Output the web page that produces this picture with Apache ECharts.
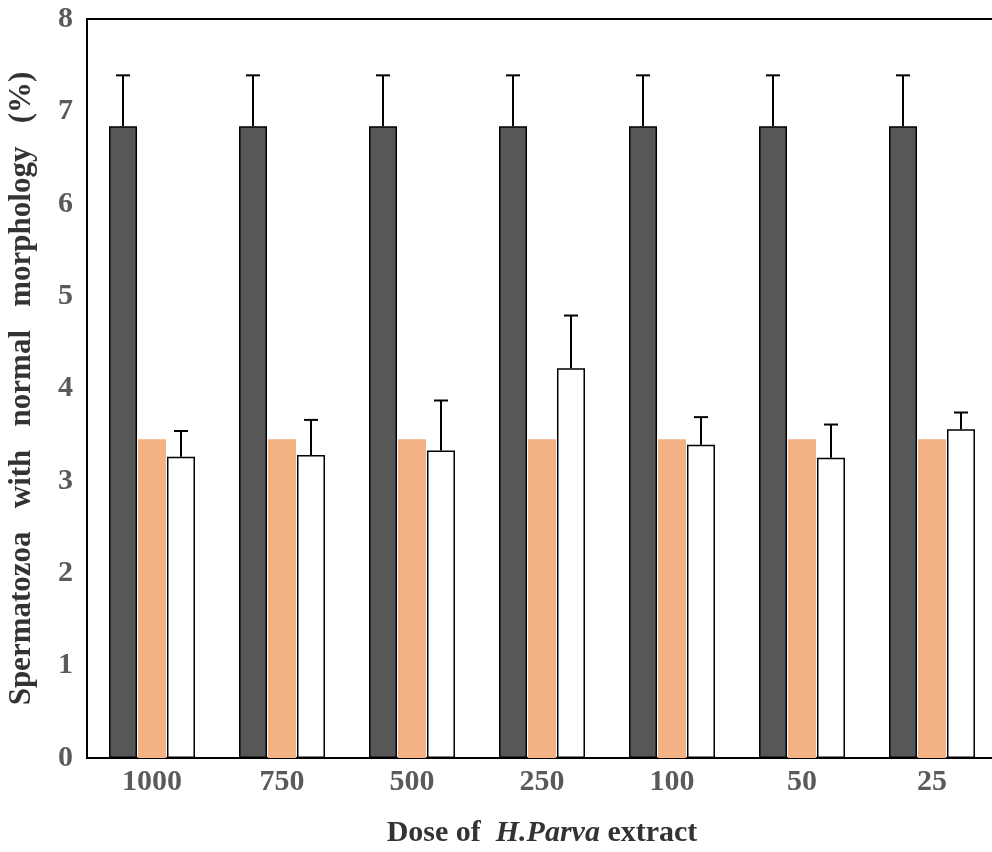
<!DOCTYPE html>
<html>
<head>
<meta charset="utf-8">
<script src="https://cdn.jsdelivr.net/npm/echarts@6/dist/echarts.min.js"></script>
<style>html,body{margin:0;padding:0;background:#fff}#c{width:992px;height:852px}</style>
</head>
<body>
<div id="c"></div>
<script>
const categories = ['1000', '750', '500', '250', '100', '50', '25'];
const controlValues = [6.84, 6.84, 6.84, 6.84, 6.84, 6.84, 6.84];
const controlErrors = [0.55, 0.55, 0.55, 0.55, 0.55, 0.55, 0.55];
const orangeValues = [3.45, 3.45, 3.45, 3.45, 3.45, 3.45, 3.45];
const extractValues = [3.26, 3.28, 3.33, 4.22, 3.39, 3.25, 3.56];
const extractErrors = [0.28, 0.38, 0.54, 0.57, 0.30, 0.36, 0.18];
const yTicks = [0, 1, 2, 3, 4, 5, 6, 7, 8];

const BAR_W = 29;
const font = 'Liberation Serif, Times New Roman, serif';

function errorSeries(values, errors, offsetBars) {
  return {
    type: 'custom',
    z: 10,
    data: values.map((v, i) => [i, v, v + errors[i]]),
    renderItem: function (params, api) {
      const base = api.coord([api.value(0), api.value(1)]);
      const top = api.coord([api.value(0), api.value(2)]);
      const x = base[0] + offsetBars * BAR_W;
      const cap = 7;
      const st = { stroke: '#000', lineWidth: 2 };
      return {
        type: 'group',
        children: [
          { type: 'line', shape: { x1: x, y1: base[1], x2: x, y2: top[1] }, style: st },
          { type: 'line', shape: { x1: x - cap, y1: top[1], x2: x + cap, y2: top[1] }, style: st }
        ]
      };
    }
  };
}

const chart = echarts.init(document.getElementById('c'));
chart.setOption({
  animation: false,
  backgroundColor: '#fff',
  grid: { left: 87, top: 19, width: 910, height: 739, outerBoundsMode: 'none', containLabel: false, show: true, borderColor: '#000', borderWidth: 2, backgroundColor: 'transparent' },
  xAxis: {
    type: 'category',
    data: categories,
    axisLine: { lineStyle: { color: '#000', width: 2 } },
    axisTick: { show: false },
    axisLabel: { color: '#5a5a5a', fontFamily: font, fontWeight: 'bold', fontSize: 30, margin: 9 },
    name: '{b|Dose of  }{i|H.Parva}{b| extract}',
    nameLocation: 'middle',
    nameGap: 60,
    nameTextStyle: {
      rich: {
        b: { fontFamily: font, fontWeight: 'bold', fontSize: 30, color: '#333' },
        i: { fontFamily: font, fontWeight: 'bold', fontStyle: 'italic', fontSize: 30, color: '#333' }
      }
    }
  },
  yAxis: {
    type: 'value',
    min: yTicks[0],
    max: yTicks[yTicks.length - 1],
    interval: 1,
    splitLine: { show: false },
    axisLine: { show: true, lineStyle: { color: '#000', width: 2 } },
    axisTick: { show: false },
    axisLabel: { color: '#5a5a5a', fontFamily: font, fontWeight: 'bold', fontSize: 30, margin: 14 },
    name: 'Spermatozoa   with   normal   morphology   (%)',
    nameLocation: 'middle',
    nameGap: 50,
    nameTextStyle: { fontFamily: font, fontWeight: 'bold', fontSize: 31, color: '#333' }
  },
  series: [
    { type: 'bar', data: controlValues, barWidth: BAR_W - 1, barGap: '3.5%', itemStyle: { color: '#575757', borderColor: '#000', borderWidth: 1.5 } },
    { type: 'bar', data: orangeValues, barWidth: BAR_W - 1, barGap: '3.5%', itemStyle: { color: '#F4B183' } },
    { type: 'bar', data: extractValues, barWidth: BAR_W - 1, barGap: '3.5%', itemStyle: { color: '#fff', borderColor: '#000', borderWidth: 1.5 } },
    errorSeries(controlValues, controlErrors, -1),
    errorSeries(extractValues, extractErrors, 1)
  ]
});
</script>
</body>
</html>
